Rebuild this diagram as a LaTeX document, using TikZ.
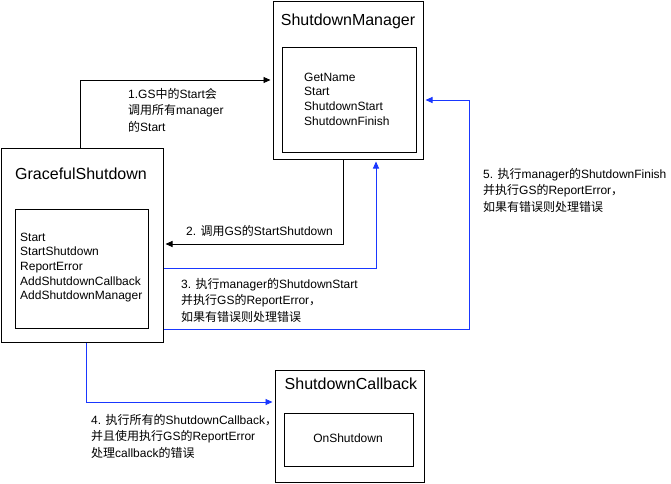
\documentclass[tikz,border=0pt]{standalone}
\usepackage{fontspec}
\setmainfont{Liberation Sans}
\newfontfamily\cjk{Noto Sans CJK SC}
\newcommand{\zh}[1]{{\cjk #1}}
\usepackage{xcolor}
\usepackage{tikz}
\usetikzlibrary{arrows.meta}

\definecolor{flowblue}{RGB}{25,55,255}

\begin{document}
\begin{tikzpicture}[x=1pt, y=-1pt, box/.style={draw, line width=1pt, rectangle, inner sep=0pt}, title/.style={font=\fontsize{16}{19}\selectfont, inner sep=0pt}, items/.style={font=\fontsize{12}{14.7}\selectfont, align=left, inner sep=0pt, anchor=west}, note/.style={font=\fontsize{12}{16.5}\selectfont, align=left, inner sep=0pt, anchor=west}, arr/.style={-{Triangle[length=7pt,width=6pt]}, line width=0.9pt, shorten >=2pt}]
  \useasboundingbox (0,0) rectangle (671,483);
  % boxes
  \node[box, minimum width=150pt, minimum height=158pt](sm) at (348,80){};
  \node[box, minimum width=134pt, minimum height=105pt](smin) at (349,99.5){};
  \node[box, minimum width=162pt, minimum height=194pt](gs) at (82,245){};
  \node[box, minimum width=133pt, minimum height=119pt](gsin) at (81.5,268.5){};
  \node[box, minimum width=149pt, minimum height=112pt](sc) at (349.5,426){};
  \node[box, minimum width=129pt, minimum height=53pt](scin) at (348.5,439.5){};
  % titles and methods
  \node[title](smtitle) at (348,21){ShutdownManager};
  \node[title](gstitle) at (81,174){GracefulShutdown};
  \node[title](sctitle) at (351,384){ShutdownCallback};
  \node[items](smitems) at (304,99){GetName\\Start\\ShutdownStart\\ShutdownFinish};
  \node[items](gsitems) at (20,267.5){Start\\StartShutdown\\ReportError\\AddShutdownCallback\\AddShutdownManager};
  \node[items, anchor=center](scitems) at (348,438){OnShutdown};
  % routing points
  \coordinate (c1) at (80,80);
  \coordinate (c2) at (343,244);
  \coordinate (c3) at (376,268);
  \coordinate (c4) at (86,402);
  \coordinate (c5a) at (469,329);
  \coordinate (c5b) at (469,100);
  % connectors
  \draw[arr] (gs.north -| c1) |- (sm.west |- c1);
  \draw[arr] (sm.south -| c2) |- (gs.east |- c2);
  \draw[arr, flowblue] (gs.east |- c3) -| (sm.south -| c3);
  \draw[arr, flowblue] (gs.south -| c4) |- (sc.west |- c4);
  \draw[arr, flowblue] (gs.east |- c5a) -- (c5a) -- (c5b) -- (sm.east |- c5b);
  % step notes
  \node[note](n1) at (128,110){1.GS\zh{中的}Start\zh{会}\\\zh{调用所有}manager\\\zh{的}Start};
  \node[note](n2) at (186,231){2. \zh{调用}GS\zh{的}StartShutdown};
  \node[note](n3) at (181,300){3. \zh{执行}manager\zh{的}ShutdownStart\\\zh{并执行}GS\zh{的}ReportError\zh{，}\\\zh{如果有错误则处理错误}};
  \node[note](n4) at (91,436){4. \zh{执行所有的}ShutdownCallback\zh{，}\\\zh{并且使用执行}GS\zh{的}ReportError\\\zh{处理}callback\zh{的错误}};
  \node[note](n5) at (483,190){5. \zh{执行}manager\zh{的}ShutdownFinish\\\zh{并执行}GS\zh{的}ReportError\zh{，}\\\zh{如果有错误则处理错误}};
\end{tikzpicture}
\end{document}
